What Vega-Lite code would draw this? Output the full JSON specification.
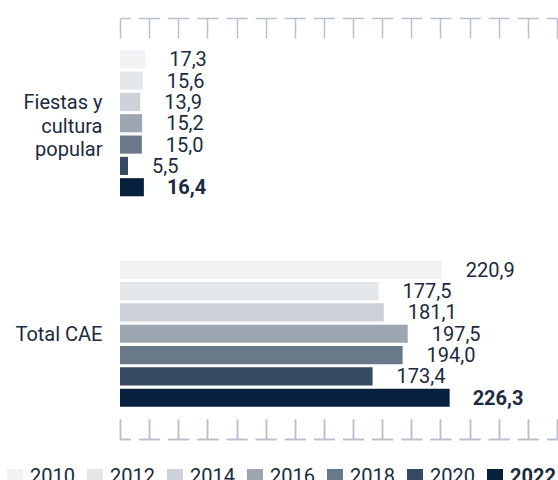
{
  "$schema": "https://vega.github.io/schema/vega-lite/v6.json",
  "width": 437,
  "height": 421,
  "autosize": {"type": "none"},
  "padding": {"left": 120, "top": 18, "right": 1, "bottom": 41},
  "background": "white",
  "data": {
    "values": [
      {"cat": "Fiestas y cultura popular", "year": 2010, "value": 17.3},
      {"cat": "Fiestas y cultura popular", "year": 2012, "value": 15.6},
      {"cat": "Fiestas y cultura popular", "year": 2014, "value": 13.9},
      {"cat": "Fiestas y cultura popular", "year": 2016, "value": 15.2},
      {"cat": "Fiestas y cultura popular", "year": 2018, "value": 15.0},
      {"cat": "Fiestas y cultura popular", "year": 2020, "value": 5.5},
      {"cat": "Fiestas y cultura popular", "year": 2022, "value": 16.4},
      {"cat": "Total CAE", "year": 2010, "value": 220.9},
      {"cat": "Total CAE", "year": 2012, "value": 177.5},
      {"cat": "Total CAE", "year": 2014, "value": 181.1},
      {"cat": "Total CAE", "year": 2016, "value": 197.5},
      {"cat": "Total CAE", "year": 2018, "value": 194.0},
      {"cat": "Total CAE", "year": 2020, "value": 173.4},
      {"cat": "Total CAE", "year": 2022, "value": 226.3}
    ]
  },
  "encoding": {
    "y": {
      "field": "cat",
      "type": "nominal",
      "sort": ["Fiestas y cultura popular", "Total CAE"],
      "scale": {"paddingInner": 0.306, "paddingOuter": 0.153},
      "axis": {
        "title": null,
        "domain": false,
        "ticks": false,
        "labelPadding": 18,
        "labelFontSize": 20,
        "labelColor": "#1b2a40",
        "labelLineHeight": 23.5,
        "labelOffset": {"condition": {"test": "datum.value == 'Fiestas y cultura popular'", "value": -20}, "value": 1},
        "labelExpr": "datum.label == 'Fiestas y cultura popular' ? ['Fiestas y', 'cultura', 'popular'] : datum.label"
      }
    },
    "yOffset": {
      "field": "year",
      "type": "ordinal",
      "sort": "ascending",
      "scale": {"paddingInner": 0.15, "paddingOuter": 0}
    },
    "x": {
      "field": "value",
      "type": "quantitative",
      "scale": {"domain": [0, 300], "nice": false},
      "axis": {
        "orient": "bottom",
        "title": null,
        "labels": false,
        "grid": false,
        "values": [0, 20, 40, 60, 80, 100, 120, 140, 160, 180, 200, 220, 240, 260, 280, 300],
        "tickSize": -20,
        "tickColor": "#b9c0ca",
        "tickWidth": 1.5,
        "domainColor": "#b9c0ca",
        "domainWidth": 1.5,
        "domainDash": [21, 8.13],
        "domainDashOffset": 10.5
      }
    }
  },
  "layer": [
    {
      "mark": {"type": "bar"},
      "encoding": {
        "x": {
          "field": "value",
          "type": "quantitative",
          "scale": {"domain": [0, 300], "nice": false},
          "axis": {
            "orient": "top",
            "title": null,
            "labels": false,
            "grid": false,
            "values": [0, 20, 40, 60, 80, 100, 120, 140, 160, 180, 200, 220, 240, 260, 280, 300],
            "tickSize": -20,
            "tickColor": "#b9c0ca",
            "tickWidth": 1.5,
            "domainColor": "#b9c0ca",
            "domainWidth": 1.5,
            "domainDash": [21, 8.13],
            "domainDashOffset": 10.5
          }
        },
        "color": {
          "field": "year",
          "type": "ordinal",
          "scale": {
            "domain": [2010, 2012, 2014, 2016, 2018, 2020, 2022],
            "range": ["#f1f2f4", "#e4e7ea", "#cdd2d8", "#9ca5b0", "#6a798a", "#364b63", "#06203d"]
          },
          "legend": {
            "orient": "none",
            "legendX": -115,
            "legendY": 449,
            "direction": "horizontal",
            "columns": 7,
            "title": null,
            "symbolType": "square",
            "symbolSize": 256,
            "symbolStrokeWidth": 0,
            "symbolOpacity": 1,
            "labelFontSize": 20,
            "labelColor": "#1b2a40",
            "labelOffset": 5,
            "columnPadding": 10,
            "padding": 0,
            "encode": {
              "labels": {
                "update": {
                  "fontWeight": {"signal": "datum.label == '2022' ? 'bold' : 'normal'"}
                }
              }
            }
          }
        }
      }
    },
    {
      "transform": [{"filter": "datum.year != 2022"}],
      "mark": {"type": "text", "align": "left", "baseline": "alphabetic", "dx": 24, "dy": 7, "fontSize": 20, "color": "#1b2a40"},
      "encoding": {
        "text": {"field": "value", "type": "quantitative", "format": ".1f"}
      }
    },
    {
      "transform": [{"filter": "datum.year == 2022"}],
      "mark": {"type": "text", "align": "left", "baseline": "alphabetic", "dx": 23, "dy": 7, "fontSize": 20, "fontWeight": "bold", "color": "#1b2a40"},
      "encoding": {
        "text": {"field": "value", "type": "quantitative", "format": ".1f"}
      }
    }
  ],
  "config": {
    "font": "Roboto",
    "view": {"stroke": null},
    "locale": {"number": {"decimal": ",", "thousands": ".", "grouping": [3], "currency": ["", " €"]}}
  }
}
